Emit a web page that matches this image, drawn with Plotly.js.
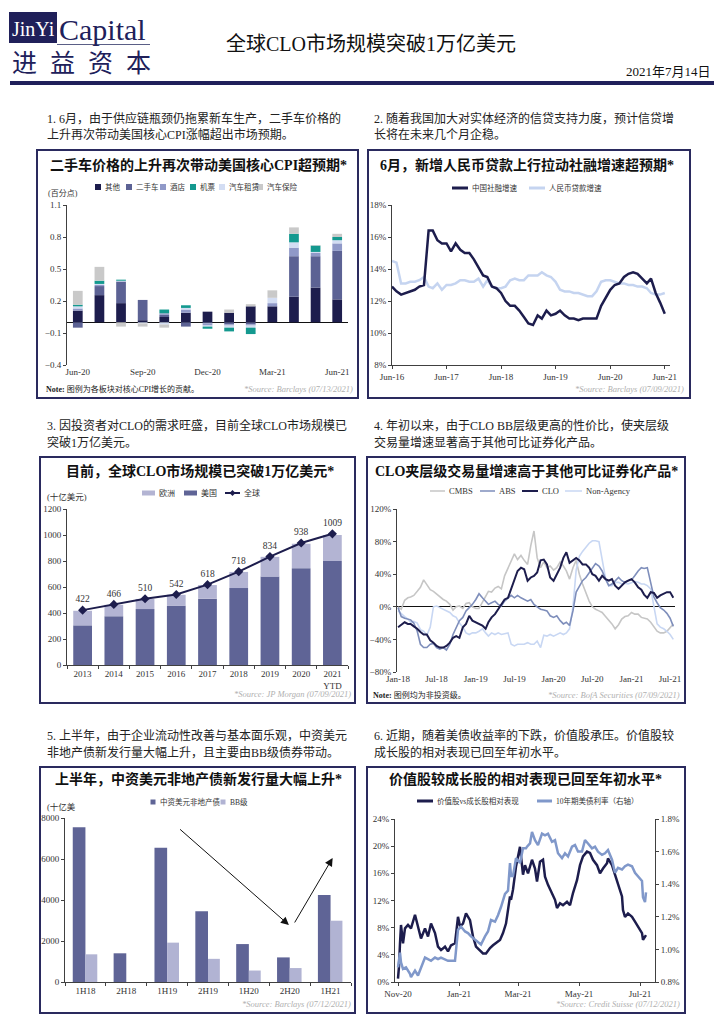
<!DOCTYPE html>
<html><head><meta charset="utf-8">
<script src="https://cdn.plot.ly/plotly-3.0.1.min.js"></script>
<style>body{margin:0;background:#fff}#chart{width:724px;height:1024px}</style>
</head><body><div id="chart"></div>
<script>
// ---------------- DATA ----------------
// Panel 1: contributions to US core CPI (percentage points)
const cpiMonths = ['Jun-20','Jul-20','Aug-20','Sep-20','Oct-20','Nov-20','Dec-20','Jan-21','Feb-21','Mar-21','Apr-21','May-21','Jun-21'];
const cpiTicks = ['Jun-20','Sep-20','Dec-20','Mar-21','Jun-21'];
const cpiOther     = [0.11,0.255,0.18,0.02,0.05,0.09,0.10,0.09,0.15,0.15,0.24,0.325,0.215];
const cpiUsedCar   = [-0.05,0.085,0.20,0.19,0.02,-0.04,-0.01,-0.02,-0.02,0.0,0.38,0.295,0.455];
const cpiHotel     = [0.02,0.01,0.005,0.0,0.015,0.03,-0.02,-0.01,-0.01,0.03,0.08,0.03,0.07];
const cpiRental    = [0.02,0.01,0.005,-0.01,-0.02,0.015,-0.01,-0.02,-0.02,0.05,0.05,0.01,0.03];
const cpiAirfare   = [0.015,0.03,0.01,0.0,0.035,0.025,-0.02,-0.035,-0.06,0.0,0.08,0.06,0.03];
const cpiInsurance = [0.13,0.13,-0.04,-0.03,-0.03,0.0,0.0,0.03,0.02,0.07,0.06,0.005,0.03];

// Panel 2: China TSF growth vs RMB loan growth (%), monthly Jun-16 .. Jun-21
const tsfGrowth = [12.9,12.6,12.4,12.5,12.6,12.7,12.9,13.0,16.4,16.4,15.8,15.6,15.6,15.1,15.6,15.2,15.0,15.0,14.6,14.1,13.6,13.5,12.9,12.8,12.5,12.0,11.7,11.7,11.4,11.0,10.6,10.5,11.1,10.9,11.4,11.1,11.2,11.4,11.1,10.9,10.9,10.8,10.9,10.9,10.9,10.9,11.7,12.2,12.7,13.0,13.1,13.5,13.7,13.8,13.7,13.4,13.1,13.4,12.5,11.9,11.2];
const loanGrowth = [14.5,14.4,13.1,13.1,13.2,13.2,13.3,13.5,12.9,12.8,13.1,12.7,13.0,13.0,13.1,13.3,13.3,13.2,13.2,13.4,12.9,13.3,12.9,12.8,12.8,12.9,13.3,13.4,13.3,13.3,13.6,13.6,13.6,13.8,13.6,13.5,13.2,12.7,12.6,12.6,12.5,12.5,12.4,12.3,12.3,12.6,13.2,13.3,13.3,13.2,13.1,13.1,13.0,13.0,12.9,12.9,12.8,12.5,12.4,12.4,12.5];
const cnStartYear = 2016, cnStartMonth = 6;

// Panel 3: global CLO market size (USD bn)
const cloYears = ['2013','2014','2015','2016','2017','2018','2019','2020','2021<br>YTD'];
const cloUS     = [305,375,430,455,510,592,680,745,800];
const cloEurope = [112,88,78,85,105,124,152,188,200];
const cloGlobal = [422,466,510,542,618,718,834,938,1009];

// Panel 4: mezzanine trading volume growth (%), semi-monthly Jan-18 .. Jul-21
const mezzStartYear = 2018, mezzMonths = 43;
const mezzCMBS = [0,-3,8,11,12,14,19,24,33,27, 21,19,16,12,9,7,3,-4,0,1, -2,4,5,0,-2,-2,5,12,19,18, 23,25,22,38,48,57,65,58,63,57, 52,75,93,60,48,55,48,50,45,48, 55,50,44,34,48,57,40,28,16,7, 0,-3,-5,-7,-12,-16,-21,-27,-22,-15, -12,-11,-7,-9,-9,-13,-14,-15,-19,-25, -30,-32,-32,-30,-25,-21];
const mezzABS  = [-1,-12,-14,-15,-16,-20,-30,-46,-50,-50, -46,-45,-50,-52,-50,-53,-46,-34,-25,-17, -13,-5,-1,3,9,16,11,7,3,5, 7,3,1,7,11,14,11,14,11,9, 7,9,3,0,-3,-4,-5,-11,-13,-11, -17,-21,-19,-23,-5,18,26,32,36,42, 48,53,50,44,34,26,28,32,36,32, 30,32,33,38,44,48,47,48,30,12, 5,-1,-4,-8,-14,-24];
const mezzCLO  = [-25,-22,-19,-21,-21,-24,-27,-31,-34,-34, -41,-44,-48,-50,-50,-48,-44,-38,-36,-38, -25,-21,-11,-17,-19,-21,-23,-27,-19,-13, -9,-3,3,9,11,22,34,44,48,46, 32,36,38,42,57,58,52,36,32,40, 48,60,67,54,57,60,57,52,52,48, 40,38,32,38,34,32,34,26,22,26, 30,32,34,30,24,21,15,11,18,17, 11,14,16,18,18,11];
const mezzNonAgency = [-5,-9,-12,-15,-19,-18,-20,-28,-30,-35, -25,0,1,-1,-3,-4,-7,-11,-13,-20, -25,-32,-34,-32,-32,-30,-27,-32,-36,-32, -34,-32,-34,-33,-32,-46,-48,-46,-46,-46, -44,-46,-46,-42,-50,-35,-36,-34,-36,-34, -32,-34,-32,-27,0,45,62,68,73,78, 81,81,80,60,35,26,26,30,30,28, 29,28,30,31,30,28,28,26,22,0, -21,-25,-27,-30,-34,-40];

// Panel 5: Chinese USD non-property bond issuance
const issuePeriods = ['1H18','2H18','1H19','2H19','1H20','2H20','1H21'];
const issueTotal = [7550,1400,6550,3450,1850,1200,4250];
const issueBB    = [1350,null,1920,1130,560,680,2990];
const trendArrows = [ // [tailX, tailY, headX, headY] in category index / value units
  [2.28,7510,4.98,2780],
  [5.10,2830,6.05,6050]
];

// Panel 6: value vs growth relative performance, and UST 10y yield
const relDates = ['2020-11-01','2020-11-02','2020-11-03','2020-11-04','2020-11-06','2020-11-08','2020-11-11','2020-11-14','2020-11-18','2020-11-21','2020-11-24','2020-11-28','2020-12-01','2020-12-04','2020-12-08','2020-12-11','2020-12-14','2020-12-18','2020-12-21','2020-12-24','2020-12-28','2020-12-31','2021-01-02','2021-01-05','2021-01-08','2021-01-12','2021-01-15','2021-01-18','2021-01-22','2021-01-25','2021-01-28','2021-02-01','2021-02-04','2021-02-07','2021-02-11','2021-02-14','2021-02-17','2021-02-21','2021-02-22','2021-02-24','2021-02-27','2021-03-03','2021-03-05','2021-03-06','2021-03-08','2021-03-11','2021-03-15','2021-03-18','2021-03-20','2021-03-23','2021-03-26','2021-03-28','2021-03-31','2021-04-04','2021-04-07','2021-04-09','2021-04-12','2021-04-15','2021-04-19','2021-04-22','2021-04-25','2021-04-29','2021-05-02','2021-05-05','2021-05-09','2021-05-12','2021-05-15','2021-05-19','2021-05-22','2021-05-25','2021-05-29','2021-05-30','2021-06-03','2021-06-06','2021-06-09','2021-06-13','2021-06-14','2021-06-16','2021-06-19','2021-06-23','2021-06-26','2021-06-29','2021-07-03','2021-07-04','2021-07-06','2021-07-07'];
const relValues = [0.5,2.3,5.7,8.4,5.7,7.9,8.4,7.9,9.9,7.9,6.4,7.9,6.7,8.6,7.2,5.2,4.7,5.2,4.5,5.4,5.7,9.6,8.2,8.6,10.1,9.1,6.7,5.2,4.7,4.2,4.2,5.0,5.4,5.7,6.2,7.2,8.6,12.6,12.1,13.6,17.0,19.9,17.2,15.8,17.2,16.0,18.0,16.7,14.8,17.7,18.0,15.5,14.3,13.1,12.1,10.9,11.6,11.3,11.8,11.3,13.1,15.0,17.2,18.5,19.2,19.0,18.0,17.2,16.0,16.7,17.5,18.2,17.2,15.8,14.3,12.6,10.6,9.6,10.1,9.6,8.9,8.2,7.2,6.2,6.7,6.9];
const ustDates = ['2020-11-01','2020-11-03','2020-11-04','2020-11-06','2020-11-09','2020-11-13','2020-11-14','2020-11-18','2020-11-21','2020-11-24','2020-11-28','2020-12-01','2020-12-04','2020-12-08','2020-12-11','2020-12-14','2020-12-18','2020-12-21','2020-12-24','2020-12-28','2020-12-31','2021-01-03','2021-01-07','2021-01-10','2021-01-13','2021-01-17','2021-01-20','2021-01-23','2021-01-27','2021-01-30','2021-02-02','2021-02-06','2021-02-09','2021-02-12','2021-02-16','2021-02-19','2021-02-21','2021-02-22','2021-02-24','2021-02-27','2021-03-03','2021-03-06','2021-03-09','2021-03-10','2021-03-13','2021-03-15','2021-03-18','2021-03-21','2021-03-25','2021-03-28','2021-03-31','2021-04-04','2021-04-07','2021-04-10','2021-04-14','2021-04-17','2021-04-20','2021-04-24','2021-04-27','2021-04-30','2021-05-04','2021-05-07','2021-05-10','2021-05-14','2021-05-17','2021-05-20','2021-05-24','2021-05-27','2021-05-30','2021-06-03','2021-06-06','2021-06-09','2021-06-13','2021-06-16','2021-06-19','2021-06-23','2021-06-26','2021-06-29','2021-07-03','2021-07-04','2021-07-06','2021-07-07'];
const ustYield = [0.89,0.98,0.92,0.88,0.89,0.85,0.83,0.87,0.84,0.89,0.95,0.94,0.93,0.95,0.94,0.95,0.94,0.93,0.93,0.93,1.12,1.14,1.11,1.10,1.08,1.06,1.04,1.03,1.08,1.11,1.18,1.17,1.21,1.26,1.34,1.36,1.53,1.45,1.45,1.56,1.53,1.62,1.62,1.63,1.65,1.72,1.67,1.64,1.71,1.70,1.71,1.66,1.67,1.59,1.56,1.59,1.57,1.63,1.64,1.60,1.60,1.67,1.65,1.62,1.63,1.60,1.58,1.59,1.61,1.55,1.47,1.50,1.49,1.51,1.52,1.51,1.47,1.45,1.42,1.32,1.29,1.35];

// ---------------- HELPERS ----------------
const W = 724, H = 1024;
const px = v => v / W;
const py = v => 1 - v / H;
const SERIF = '"Liberation Serif", "Noto Sans CJK SC", serif';
const NAVY = '#1d1d4d';
const C = {
  other: NAVY, used: '#5c6294', hotel: '#9099c8', air: '#14998f', rental: '#d3ddf3', ins: '#c9c9c9',
  eu: '#b3b4d3', us: '#5f6496',
  loan: '#c5d4f0', cmbs: '#c6c6c6', abs: '#7e8ebb', nonag: '#c8d7f3',
  bb: '#b1b3d3', ust: '#8098ca'
};

function monthDates(y0, m0, n) {
  const out = [];
  for (let i = 0; i < n; i++) {
    const t = (m0 - 1) + i, y = y0 + Math.floor(t / 12), m = (t % 12) + 1;
    out.push(y + '-' + String(m).padStart(2, '0') + '-01');
  }
  return out;
}
function semiMonthDates(y0, n) {
  const out = [];
  for (let i = 0; i < n; i++) {
    const y = y0 + Math.floor(i / 12), m = String((i % 12) + 1).padStart(2, '0');
    out.push(y + '-' + m + '-01');
    out.push(y + '-' + m + '-16');
  }
  return out;
}
const cnDates = monthDates(cnStartYear, cnStartMonth, tsfGrowth.length);
const mezzDates = semiMonthDates(mezzStartYear, mezzMonths);

const annotations = [];
const shapes = [];
function T(text, x, y, o) {
  o = o || {};
  annotations.push({
    text: text, xref: 'paper', yref: 'paper', x: px(x), y: py(y), showarrow: false,
    xanchor: o.xa || 'left', yanchor: o.ya || 'middle', align: o.align || 'left',
    font: { family: o.family || SERIF, size: o.size || 12, color: o.color || '#222' }
  });
}
function rect(x0, y0, x1, y1, fill, line, lw) {
  shapes.push({ type: 'rect', xref: 'paper', yref: 'paper', x0: px(x0), x1: px(x1), y0: py(y1), y1: py(y0),
    fillcolor: fill || 'rgba(0,0,0,0)', line: { color: line || 'rgba(0,0,0,0)', width: lw || 0 }, layer: 'above' });
}
function hline(x0, x1, y, color, w) {
  shapes.push({ type: 'line', xref: 'paper', yref: 'paper', x0: px(x0), x1: px(x1), y0: py(y), y1: py(y),
    line: { color: color, width: w }, layer: 'above' });
}
function diamond(x, y, r, color) {
  const p = 'M ' + px(x) + ' ' + py(y - r) + ' L ' + px(x + r) + ' ' + py(y) + ' L ' + px(x) + ' ' + py(y + r) + ' L ' + px(x - r) + ' ' + py(y) + ' Z';
  shapes.push({ type: 'path', xref: 'paper', yref: 'paper', path: p, fillcolor: color, line: { color: color, width: 0 }, layer: 'above' });
}
function legBox(x, y, color, label, size, w, h) {
  w = w || 6; h = h || 6;
  rect(x - w / 2, y - h / 2, x + w / 2, y + h / 2, color);
  T(label, x + w / 2 + 2, y, { size: size || 8, color: '#333' });
}
function legLine(x0, x1, y, color, lw, label, size) {
  hline(x0, x1, y, color, lw);
  T(label, x1 + 2, y, { size: size || 8, color: '#333' });
}

// ---------------- HEADER ----------------
rect(9, 12, 57, 43, '#20205a');
T('JinYi', 33, 29, { xa: 'center', size: 20, color: '#ffffff' });
T('Capital', 57, 29, { size: 30, color: '#20205a' });
hline(57, 150, 44.5, '#5a5e86', 1);
['进', '益', '资', '本'].forEach((c, i) => T(c, 24 + i * 38, 61, { xa: 'center', size: 25, color: '#20205a', family: '"Noto Sans CJK SC", sans-serif' }));
T('全球CLO市场规模突破1万亿美元', 371, 44, { xa: 'center', size: 20, color: '#111' });
T('2021年7月14日', 713, 71, { xa: 'right', size: 13, color: '#111' });
hline(10, 714, 83, '#20205a', 4);

// ---------------- DESCRIPTIONS ----------------
T('1. 6月，由于供应链瓶颈仍拖累新车生产，二手车价格的', 45, 118);
T('上升再次带动美国核心CPI涨幅超出市场预期。', 45, 134);
T('2. 随着我国加大对实体经济的信贷支持力度，预计信贷增', 372, 118);
T('长将在未来几个月企稳。', 372, 134);
T('3. 因投资者对CLO的需求旺盛，目前全球CLO市场规模已', 45, 425);
T('突破1万亿美元。', 45, 442);
T('4. 年初以来，由于CLO BB层级更高的性价比，使夹层级', 372, 425);
T('交易量增速显著高于其他可比证券化产品。', 372, 442);
T('5. 上半年，由于企业流动性改善与基本面乐观，中资美元', 45, 735);
T('非地产债新发行量大幅上升，且主要由BB级债券带动。', 45, 752);
T('6. 近期，随着美债收益率的下跌，价值股承压。价值股较', 372, 735);
T('成长股的相对表现已回至年初水平。', 372, 752);

// ---------------- PANEL BOXES & TITLES ----------------
const BOX = '#2a2a5e';
rect(37, 150, 358, 398, null, BOX, 2);
rect(368, 150, 690, 398, null, BOX, 2);
rect(40, 457, 355, 703, null, BOX, 2);
rect(367, 457, 685, 703, null, BOX, 2);
rect(40, 767, 355, 1013, null, BOX, 2);
rect(367, 767, 685, 1013, null, BOX, 2);

T('<b>二手车价格的上升再次带动美国核心CPI超预期*</b>', 198, 165, { xa: 'center', size: 14, color: '#111' });
T('<b>6月，新增人民币贷款上行拉动社融增速超预期*</b>', 527, 165, { xa: 'center', size: 14, color: '#111' });
T('<b>目前，全球CLO市场规模已突破1万亿美元*</b>', 200, 471, { xa: 'center', size: 14, color: '#111' });
T('<b>CLO夹层级交易量增速高于其他可比证券化产品*</b>', 526, 471, { xa: 'center', size: 14, color: '#111' });
T('<b>上半年，中资美元非地产债新发行量大幅上升*</b>', 198, 779, { xa: 'center', size: 14, color: '#111' });
T('<b>价值股较成长股的相对表现已回至年初水平*</b>', 525, 779, { xa: 'center', size: 14, color: '#111' });

// notes & sources
const SRC = '#b0b0b0';
T('<b>Note:</b> 图例为各板块对核心CPI增长的贡献。', 44, 389, { size: 8, color: '#222' });
T('<i>*Source: Barclays (07/13/2021)</i>', 355, 389, { xa: 'right', size: 8.5, color: SRC });
T('<i>*Source: Barclays (07/09/2021)</i>', 686, 389, { xa: 'right', size: 8.5, color: SRC });
T('<i>*Source: JP Morgan (07/09/2021)</i>', 353, 694, { xa: 'right', size: 8.5, color: SRC });
T('<b>Note:</b> 图例均为非投资级。', 371, 695, { size: 8, color: '#222' });
T('<i>*Source: BofA Securities (07/09/2021)</i>', 682, 695, { xa: 'right', size: 8.5, color: SRC });
T('<i>*Source: Barclays (07/12/2021)</i>', 353, 1004, { xa: 'right', size: 8.5, color: SRC });
T('<i>*Source: Credit Suisse (07/12/2021)</i>', 682, 1004, { xa: 'right', size: 8.5, color: SRC });

// axis unit labels
T('(百分点)', 46, 193, { size: 8, color: '#333' });
T('(十亿美元)', 45, 497, { size: 8.5, color: '#333' });
T('(十亿美', 45, 807, { size: 8.5, color: '#333' });

// ---------------- LEGENDS ----------------
legBox(98, 187, C.other, '其他', 7.5);
legBox(129, 187, C.used, '二手车', 7.5);
legBox(163, 187, C.hotel, '酒店', 7.5);
legBox(193, 187, C.air, '机票', 7.5);
legBox(222, 187, C.rental, '汽车租赁', 7.5);
legBox(260, 187, C.ins, '汽车保险', 7.5);

legLine(452, 468, 188, NAVY, 3, '中国社融增速', 7.5);
legLine(529, 545, 188, C.loan, 3, '人民币贷款增速', 7.5);

legBox(148.5, 493, C.eu, '欧洲', 8, 13, 5);
legBox(190.5, 493, C.us, '美国', 8, 13, 5);
legLine(225, 240, 493, NAVY, 2, '全球', 8);
diamond(232.5, 493, 3, NAVY);

legLine(430, 445, 491, C.cmbs, 1.5, 'CMBS', 8.5);
legLine(480, 495, 491, C.abs, 1.5, 'ABS', 8.5);
legLine(522, 538, 491, NAVY, 2, 'CLO', 8.5);
legLine(565, 582, 491, C.nonag, 1.5, 'Non-Agency', 8.5);

legBox(153, 802, C.us, '中资美元非地产债', 7.5, 5, 5);
legBox(223, 802, C.bb, 'BB级', 7.5, 5, 5);

legLine(417, 433, 801, NAVY, 3, '价值股vs成长股相对表现', 7.5);
legLine(537, 552, 801, C.ust, 3, '10年期美债利率（右轴）', 7.5);

// trend arrows (panel 5)
trendArrows.forEach(a => annotations.push({
  xref: 'x5', yref: 'y5', axref: 'x5', ayref: 'y5',
  x: a[2], y: a[3], ax: a[0], ay: a[1], text: '', showarrow: true,
  arrowhead: 2, arrowsize: 1.6, arrowwidth: 1, arrowcolor: '#111'
}));

// ---------------- TRACES ----------------
const traces = [];
function cpiBar(name, vals, color) {
  traces.push({ type: 'bar', name: name, x: cpiMonths, y: vals, xaxis: 'x', yaxis: 'y', width: 0.45,
    marker: { color: color, line: { width: 0 } } });
}
cpiBar('其他', cpiOther, C.other);
cpiBar('二手车', cpiUsedCar, C.used);
cpiBar('酒店', cpiHotel, C.hotel);
cpiBar('汽车租赁', cpiRental, C.rental);
cpiBar('机票', cpiAirfare, C.air);
cpiBar('汽车保险', cpiInsurance, C.ins);

traces.push({ type: 'scatter', mode: 'lines', name: '人民币贷款增速', x: cnDates, y: loanGrowth, xaxis: 'x2', yaxis: 'y2', line: { color: C.loan, width: 2.5 } });
traces.push({ type: 'scatter', mode: 'lines', name: '中国社融增速', x: cnDates, y: tsfGrowth, xaxis: 'x2', yaxis: 'y2', line: { color: NAVY, width: 2.5 } });

traces.push({ type: 'bar', name: '美国', x: cloYears, y: cloUS, xaxis: 'x3', yaxis: 'y3', width: 0.6, marker: { color: C.us } });
traces.push({ type: 'bar', name: '欧洲', x: cloYears, y: cloEurope, xaxis: 'x3', yaxis: 'y3', width: 0.6, marker: { color: C.eu } });
traces.push({ type: 'scatter', mode: 'lines+markers+text', name: '全球', x: cloYears, y: cloGlobal, xaxis: 'x3', yaxis: 'y3',
  text: cloGlobal.map(String), textposition: 'top center', textfont: { family: SERIF, size: 9.5, color: '#333' },
  line: { color: NAVY, width: 2 }, marker: { symbol: 'diamond', size: 7, color: NAVY }, cliponaxis: false });

traces.push({ type: 'scatter', mode: 'lines', name: 'CMBS', x: mezzDates, y: mezzCMBS, xaxis: 'x4', yaxis: 'y4', line: { color: C.cmbs, width: 1.6 } });
traces.push({ type: 'scatter', mode: 'lines', name: 'Non-Agency', x: mezzDates, y: mezzNonAgency, xaxis: 'x4', yaxis: 'y4', line: { color: C.nonag, width: 1.6 } });
traces.push({ type: 'scatter', mode: 'lines', name: 'ABS', x: mezzDates, y: mezzABS, xaxis: 'x4', yaxis: 'y4', line: { color: C.abs, width: 1.6 } });
traces.push({ type: 'scatter', mode: 'lines', name: 'CLO', x: mezzDates, y: mezzCLO, xaxis: 'x4', yaxis: 'y4', line: { color: NAVY, width: 2 } });

traces.push({ type: 'bar', name: '中资美元非地产债', x: issuePeriods, y: issueTotal, xaxis: 'x5', yaxis: 'y5', width: 0.31, offset: -0.31, marker: { color: C.us } });
traces.push({ type: 'bar', name: 'BB级', x: issuePeriods, y: issueBB, xaxis: 'x8', yaxis: 'y5', width: 0.29, offset: 0.0, marker: { color: C.bb } });

traces.push({ type: 'scatter', mode: 'lines', name: '10年期美债利率（右轴）', x: ustDates, y: ustYield, xaxis: 'x6', yaxis: 'y7', line: { color: C.ust, width: 2.5 } });
traces.push({ type: 'scatter', mode: 'lines', name: '价值股vs成长股相对表现', x: relDates, y: relValues, xaxis: 'x6', yaxis: 'y6', line: { color: NAVY, width: 2.5 } });

// ---------------- AXES ----------------
function ax(extra) {
  return Object.assign({
    showgrid: false, zeroline: false, showline: true, linecolor: '#404040', linewidth: 1,
    ticks: 'outside', ticklen: 3, tickcolor: '#404040',
    tickfont: { family: SERIF, size: 9, color: '#333' }, fixedrange: true
  }, extra);
}
const layout = {
  width: W, height: H, margin: { l: 0, r: 0, t: 0, b: 0 },
  paper_bgcolor: '#ffffff', plot_bgcolor: 'rgba(0,0,0,0)',
  font: { family: SERIF, size: 10, color: '#222' },
  showlegend: false, barmode: 'relative', hovermode: false,
  // Panel 1
  xaxis: ax({ domain: [px(67), px(348)], anchor: 'y', type: 'category', range: [-0.5, 12.5], showline: false, ticks: '', tickvals: cpiTicks, ticktext: cpiTicks }),
  yaxis: ax({ domain: [py(365), py(205)], anchor: 'x', range: [-0.4, 1.1], tickvals: [-0.4, -0.1, 0.2, 0.5, 0.8, 1.1], tickformat: '.1f', zeroline: true, zerolinecolor: '#111', zerolinewidth: 1 }),
  // Panel 2
  xaxis2: ax({ domain: [px(392), px(670)], anchor: 'y2', type: 'date', range: ['2016-06-01', '2021-07-06'], tick0: '2016-06-01', dtick: 'M12', tickformat: '%b-%y' }),
  yaxis2: ax({ domain: [py(365), py(205)], anchor: 'x2', range: [8, 18], dtick: 2, ticksuffix: '%' }),
  // Panel 3
  xaxis3: ax({ domain: [px(67), px(348)], anchor: 'y3', type: 'category', range: [-0.5, 8.5], tickson: 'boundaries' }),
  yaxis3: ax({ domain: [py(665), py(509)], anchor: 'x3', range: [0, 1200], dtick: 200 }),
  // Panel 4
  xaxis4: ax({ domain: [px(397), px(675)], anchor: 'y4', type: 'date', range: ['2017-12-27', '2021-07-24'], tick0: '2018-01-01', dtick: 'M6', tickformat: '%b-%y', showline: false, ticks: '' }),
  yaxis4: ax({ domain: [py(672), py(509)], anchor: 'x4', range: [-80, 120], dtick: 40, ticksuffix: '%', zeroline: true, zerolinecolor: '#111', zerolinewidth: 1 }),
  // Panel 5
  xaxis5: ax({ domain: [px(65), px(351)], anchor: 'y5', type: 'category', range: [-0.5, 6.5], tickson: 'boundaries' }),
  xaxis8: ax({ domain: [px(65), px(351)], anchor: 'y5', type: 'category', range: [-0.5, 6.5], overlaying: 'x5', visible: false }),
  yaxis5: ax({ domain: [py(982), py(818)], anchor: 'x5', range: [0, 8000], dtick: 2000 }),
  // Panel 6
  xaxis6: ax({ domain: [px(395), px(655)], anchor: 'y6', type: 'date', range: ['2020-10-29', '2021-07-16'], tick0: '2020-11-01', dtick: 'M2', tickformat: '%b-%y' }),
  yaxis6: ax({ domain: [py(982), py(819)], anchor: 'x6', range: [0, 24], dtick: 4, ticksuffix: '%' }),
  yaxis7: ax({ domain: [py(982), py(819)], anchor: 'x6', overlaying: 'y6', side: 'right', range: [0.8, 1.8], dtick: 0.2, tickformat: '.1f', ticksuffix: '%' }),
  annotations: annotations,
  shapes: shapes
};

Plotly.newPlot('chart', traces, layout, { staticPlot: true, displayModeBar: false });
</script>
</body></html>
